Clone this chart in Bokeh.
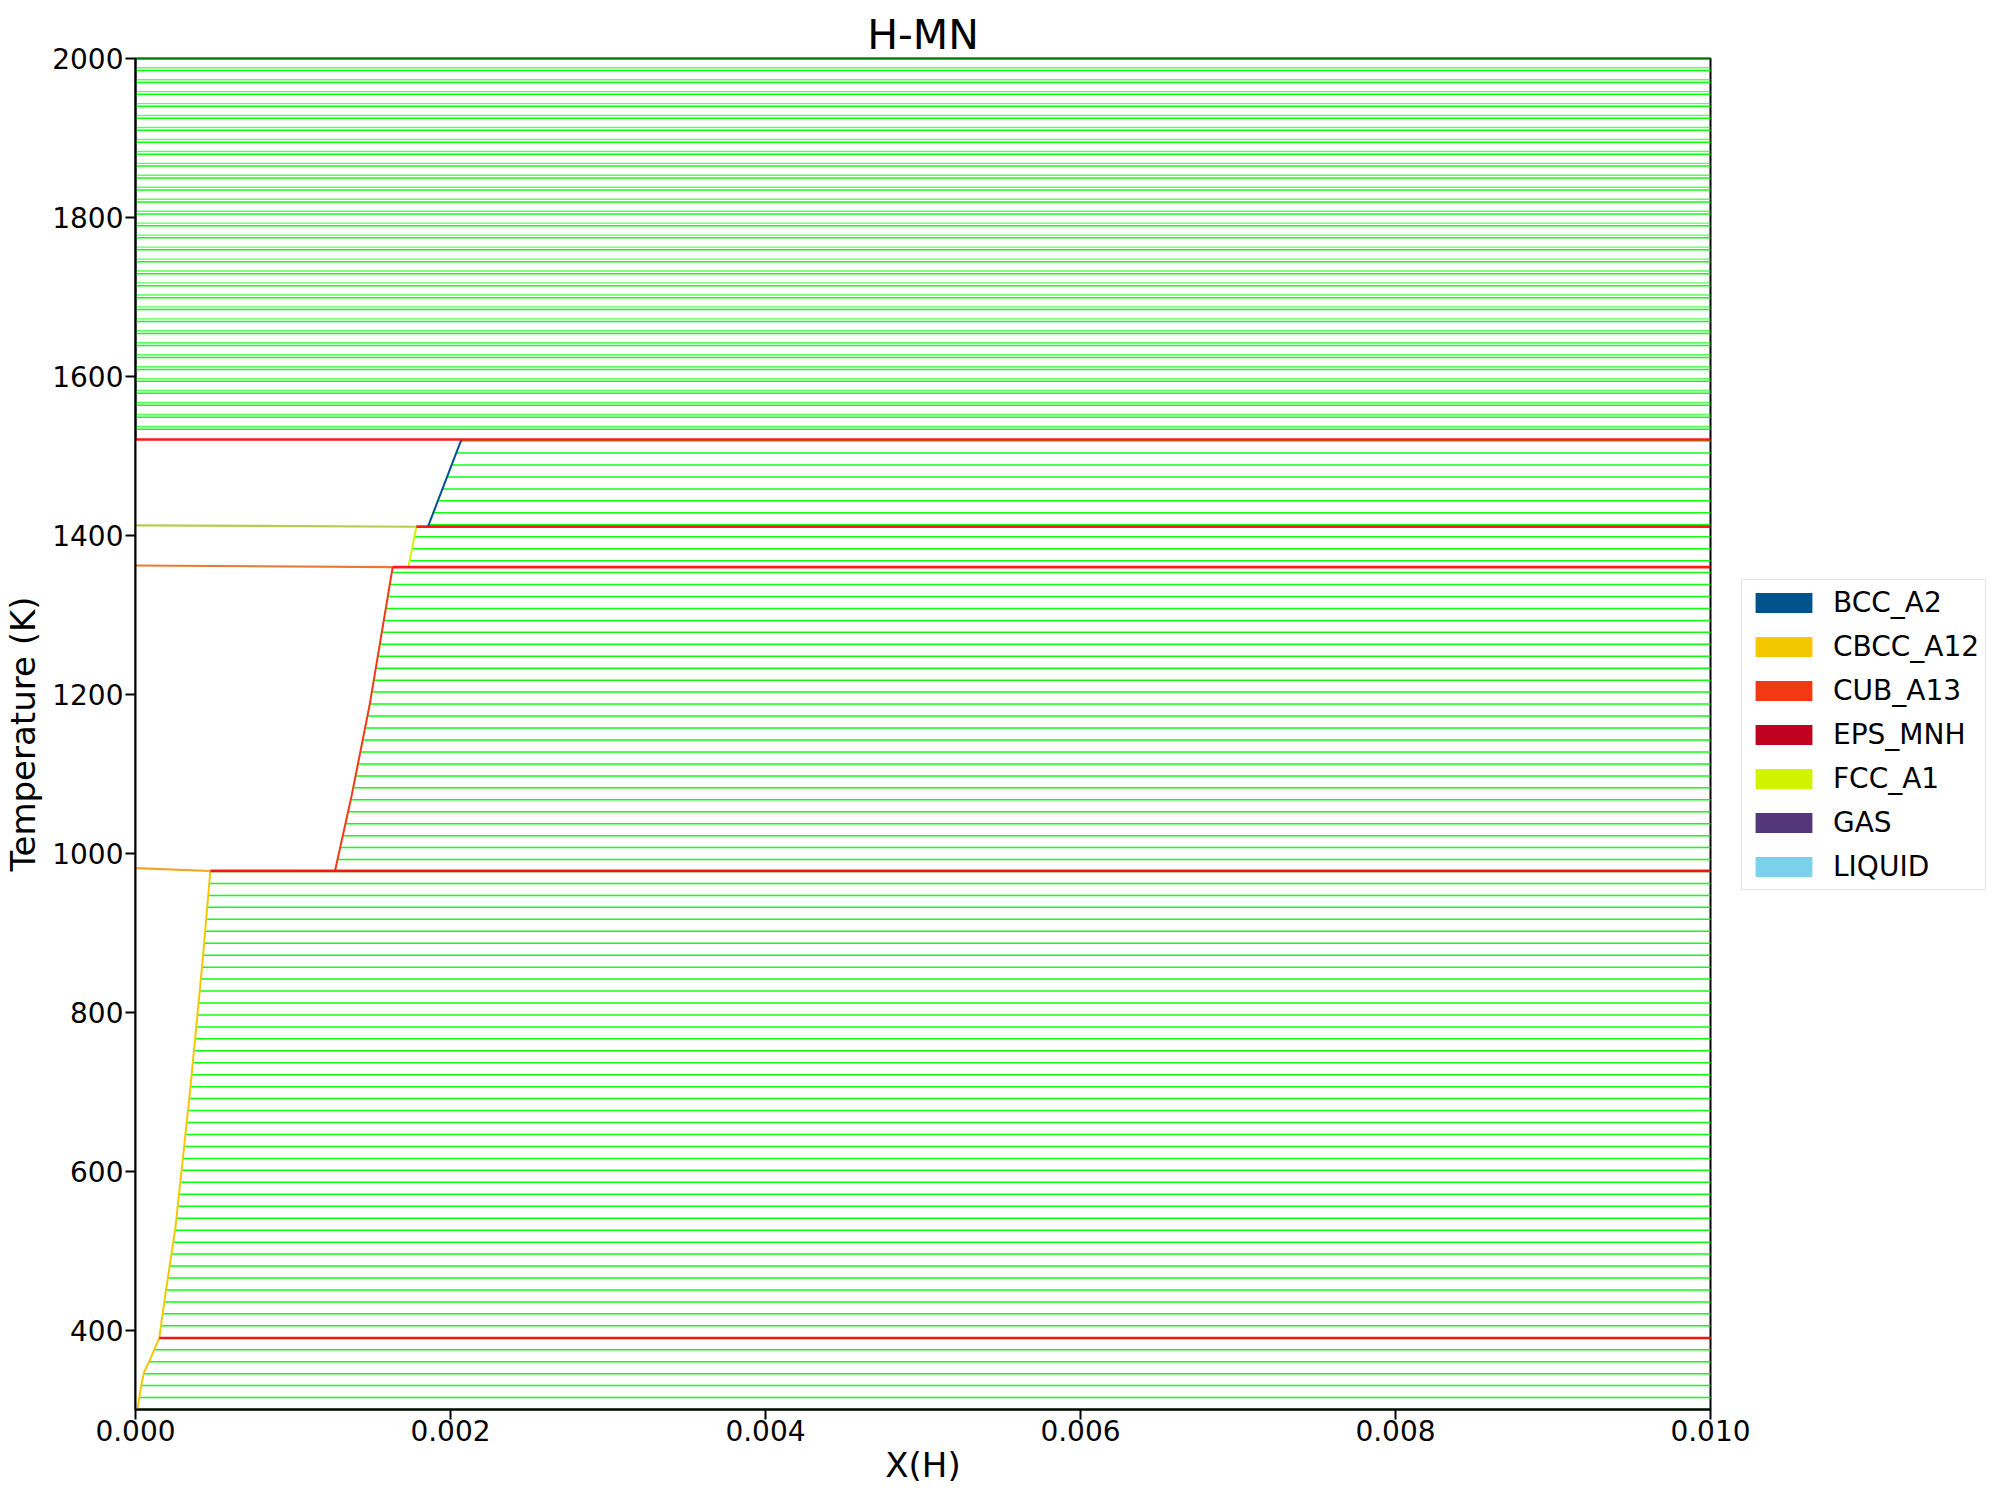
from bokeh.plotting import figure
from bokeh.models import Legend, LegendItem, FixedTicker, Range1d, PrintfTickFormatter
from bokeh.embed import file_html
from bokeh.resources import INLINE

# ---------------- data ----------------
title_text = "H-MN"
x_label = "X(H)"
y_label = "Temperature (K)"
x_lim = [0.0, 0.010]
y_lim = [300, 2000]
x_ticks = [0.0, 0.002, 0.004, 0.006, 0.008, 0.010]
x_tick_labels = ["0.000", "0.002", "0.004", "0.006", "0.008", "0.010"]
y_ticks = [400, 600, 800, 1000, 1200, 1400, 1600, 1800, 2000]

phases = ["BCC_A2", "CBCC_A12", "CUB_A13", "EPS_MNH", "FCC_A1", "GAS", "LIQUID"]
phase_colors = ["#00538A", "#F4C800", "#F13A13", "#C10020", "#D2F300", "#53377A", "#7BD1EC"]

# tie-line temperatures (calculation grid)
tie_T = [300.0, 315.0, 330.1, 345.1, 360.2, 375.2, 390.3, 405.3, 420.4, 435.4,
         450.4, 465.5, 480.5, 495.6, 510.6, 525.7, 540.7, 555.8, 570.8, 585.8,
         600.9, 615.9, 631.0, 646.0, 661.1, 676.1, 691.2, 706.2, 721.2, 736.3,
         751.3, 766.4, 781.4, 796.5, 811.5, 826.5, 841.6, 856.6, 871.7, 886.7,
         901.8, 916.8, 931.9, 946.9, 961.9, 977.0, 992.0, 1007.1, 1022.1, 1037.2,
         1052.2, 1067.3, 1082.3, 1097.3, 1112.4, 1127.4, 1142.5, 1157.5, 1172.6, 1187.6,
         1202.7, 1217.7, 1232.7, 1247.8, 1262.8, 1277.9, 1292.9, 1308.0, 1323.0, 1338.1,
         1353.1, 1368.1, 1383.2, 1398.2, 1413.3, 1428.3, 1443.4, 1458.4, 1473.5, 1488.5,
         1503.5, 1518.6, 1533.6, 1548.7, 1563.7, 1578.8, 1593.8, 1608.8, 1623.9, 1638.9,
         1654.0, 1669.0, 1684.1, 1699.1, 1714.2, 1729.2, 1744.2, 1759.3, 1774.3, 1789.4,
         1804.4, 1819.5, 1834.5, 1849.6, 1864.6, 1879.6, 1894.7, 1909.7, 1924.8, 1939.8,
         1954.9, 1969.9, 1984.9, 2000.0]
# second set of tie-lines in the liquid + gas region
tie_T_liq = [1537.0, 1552.1, 1567.1, 1582.2, 1597.2, 1612.2, 1627.3, 1642.3, 1657.4,
             1672.4, 1687.5, 1702.5, 1717.6, 1732.6, 1747.6, 1762.7, 1777.7, 1792.8,
             1807.8, 1822.9, 1837.9, 1853.0, 1868.0, 1883.0, 1898.1, 1913.1, 1928.2,
             1943.2, 1958.3, 1973.3, 1988.3]

# phase boundaries (Mn-rich side)
cbcc_low_x = [0.0, 0.000013, 0.000037, 0.000053, 0.000088, 0.000151]
cbcc_low_T = [300, 301, 331, 346, 361, 390]
cbcc_x = [0.000151, 0.000189, 0.000253, 0.000344, 0.000426, 0.000475]
cbcc_T = [390, 444, 528, 696, 864, 977.6]
cub_x = [0.001267, 0.001374, 0.001487, 0.001633]
cub_T = [978.0, 1074, 1187, 1360]
fcc_x = [0.001733, 0.001783]
fcc_T = [1360.0, 1410.8]
bcc_x = [0.001857, 0.002069]
bcc_T = [1411.0, 1520.5]

# narrow two-phase bands between Mn allotropes
band_x0 = [0.0, 0.0, 0.0]
band_x1 = [0.000475, 0.001633, 0.001783]
band_T0 = [981.2, 1362.0, 1412.6]
band_T1 = [977.6, 1360.0, 1410.8]
band_colors = ["#F39A0C", "#E36A1E", "#A8C93A"]

# invariant reactions
inv_T = [390.0, 977.8, 1360.0, 1411.0, 1520.5]
inv_x_start = [0.000151, 0.000475, 0.001633, 0.001783, 0.0]

# ---------------- plot ----------------
FONT = "DejaVu Sans"
p = figure(frame_width=1575, frame_height=1351,
           x_range=Range1d(*x_lim), y_range=Range1d(*y_lim),
           output_backend="svg", toolbar_location=None,
           min_border_left=132, min_border_right=276,
           min_border_top=58, min_border_bottom=74,
           background_fill_color="white", border_fill_color="white")

p.title.text = title_text
p.title.align = "center"
p.title.text_font = FONT
p.title.text_font_size = "41px"
p.title.text_font_style = "normal"
p.title.text_color = "black"
p.title.standoff = 0
p.title.offset = 0

p.xgrid.visible = False
p.ygrid.visible = False
p.outline_line_color = "black"
p.outline_line_width = 2
p.outline_line_alpha = 1

for ax in (p.xaxis[0], p.yaxis[0]):
    ax.axis_line_width = 2
    ax.major_tick_line_width = 2
    ax.major_tick_out = 10
    ax.major_tick_in = 0
    ax.minor_tick_line_color = None
    ax.major_label_text_font = FONT
    ax.major_label_text_font_size = "28px"
    ax.major_label_text_color = "black"
    ax.axis_label_text_font = FONT
    ax.axis_label_text_font_size = "34px"
    ax.axis_label_text_font_style = "normal"
    ax.axis_label_text_color = "black"

p.xaxis.axis_label = x_label
p.yaxis.axis_label = y_label
p.xaxis.ticker = FixedTicker(ticks=x_ticks)
p.xaxis.formatter = PrintfTickFormatter(format="%.3f")
p.xaxis.major_label_overrides = {t: l for t, l in zip(x_ticks, x_tick_labels)}
p.yaxis.ticker = FixedTicker(ticks=y_ticks)
p.xaxis.major_label_standoff = 0
p.yaxis.major_label_standoff = 2
p.xaxis.axis_label_standoff = 1
p.yaxis.axis_label_standoff = 6

x_far = x_lim[1] * 1.05

# tie lines
p.segment(x0=[x_lim[0]] * len(tie_T), x1=[x_far] * len(tie_T), y0=tie_T, y1=tie_T,
          line_color="#00ff00", line_width=1.5, line_alpha=0.95)
p.segment(x0=[x_lim[0]] * len(tie_T_liq), x1=[x_far] * len(tie_T_liq),
          y0=tie_T_liq, y1=tie_T_liq,
          line_color="#00ff00", line_width=1.4, line_alpha=0.65)

# single-phase (Mn side) region, blank
poly_x = ([0.0] + cbcc_low_x + cbcc_x[1:] + cub_x + fcc_x + bcc_x + [0.0])
poly_T = ([300.0] + cbcc_low_T + cbcc_T[1:] + cub_T + fcc_T + bcc_T + [bcc_T[-1]])
p.patch(poly_x, poly_T, fill_color="white", line_color=None)

# narrow bands
p.segment(x0=band_x0, x1=band_x1, y0=band_T0, y1=band_T1,
          line_color=band_colors, line_width=2.2, line_alpha=0.9)

# phase boundaries
col = dict(zip(phases, phase_colors))
p.line(cbcc_low_x[1:], cbcc_low_T[1:], line_color=col["CBCC_A12"], line_width=2)
p.line(cbcc_x, cbcc_T, line_color=col["CBCC_A12"], line_width=2)
p.line(cub_x, cub_T, line_color=col["CUB_A13"], line_width=2)
p.line(fcc_x, fcc_T, line_color=col["FCC_A1"], line_width=2)
p.line(bcc_x, bcc_T, line_color=col["BCC_A2"], line_width=2)

# invariant lines
p.segment(x0=inv_x_start, x1=[x_far] * len(inv_T), y0=inv_T, y1=inv_T,
          line_color="#ff0000", line_width=2.6, line_alpha=0.9)

# legend (zero-size proxy quads so the legend shows colour patches)
items = []
for name, c in zip(phases, phase_colors):
    r = p.quad(left=[x_lim[0]], right=[x_lim[0]], top=[y_lim[0]], bottom=[y_lim[0]],
               fill_color=c, line_color=None)
    items.append(LegendItem(label=name, renderers=[r]))

legend = Legend(items=items, location=(31, 519))
legend.glyph_width = 71
legend.glyph_height = 25
legend.label_standoff = 14
legend.padding = 6
legend.spacing = 11
legend.margin = 0
legend.label_text_font = FONT
legend.label_text_font_size = "28px"
legend.label_text_color = "black"
legend.border_line_color = "#cccccc"
legend.border_line_width = 1.5
legend.background_fill_color = "white"
legend.background_fill_alpha = 0.8
p.add_layout(legend, "right")

open("out.html", "w").write(file_html(p, INLINE))
